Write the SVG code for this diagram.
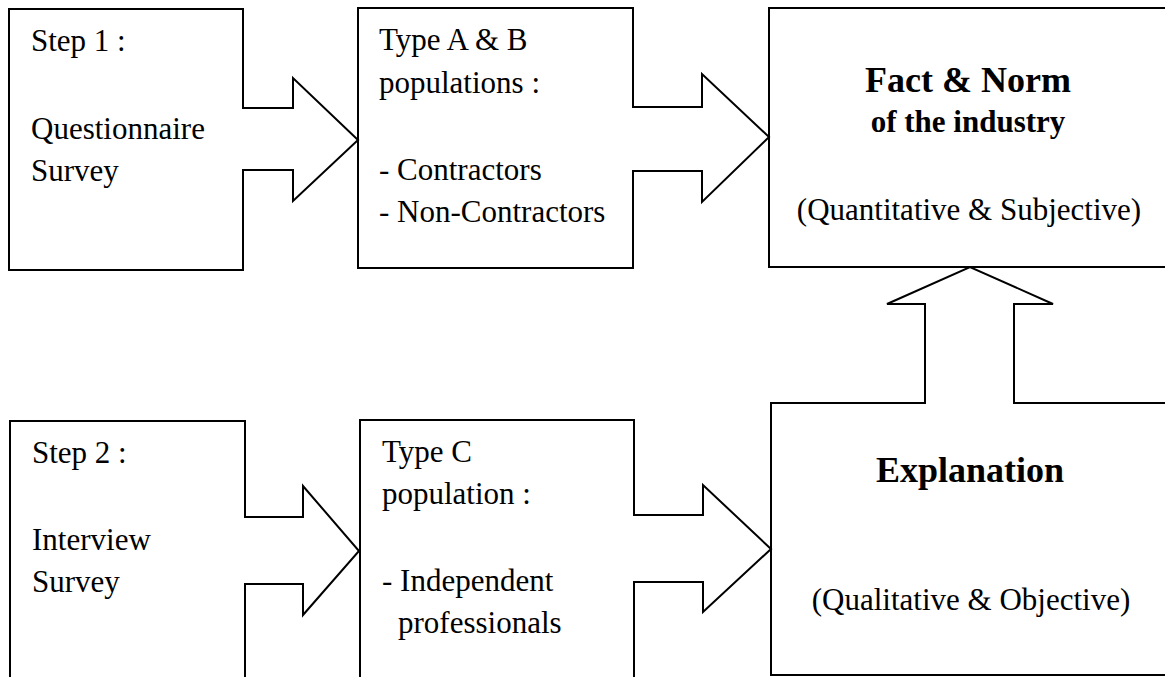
<svg xmlns="http://www.w3.org/2000/svg" width="1165" height="677" viewBox="0 0 1165 677">
<style>
.box{fill:#fff;stroke:#000;stroke-width:2}
.af{fill:#fff;stroke:none}
.al{fill:none;stroke:#000;stroke-width:2;stroke-linejoin:miter}
text{font-family:"Liberation Serif","Times New Roman",serif;font-size:31px;fill:#000}
.b{font-weight:bold}
.c{text-anchor:middle}
</style>
<rect width="1165" height="677" fill="#fff"/>
<g id="step1">
<rect class="box" x="9" y="9" width="234" height="261"/>
<text x="31" y="51">Step 1 :</text>
<text x="31" y="139">Questionnaire</text>
<text x="31" y="181">Survey</text>
</g>
<g id="typeAB">
<rect class="box" x="358" y="8" width="275" height="260"/>
<text x="379" y="50">Type A &amp; B</text>
<text x="379" y="93">populations :</text>
<text x="379" y="180">- Contractors</text>
<text x="379" y="222">- Non-Contractors</text>
</g>
<g id="factnorm">
<rect class="box" x="769" y="8" width="420" height="259"/>
<text class="b c" x="968" y="92" style="font-size:36px">Fact &amp; Norm</text>
<text class="b c" x="968" y="132">of the industry</text>
<text class="c" x="969" y="220">(Quantitative &amp; Subjective)</text>
</g>
<g id="step2">
<rect class="box" x="10" y="421" width="235" height="300"/>
<text x="32" y="463">Step 2 :</text>
<text x="32" y="550">Interview</text>
<text x="32" y="592">Survey</text>
</g>
<g id="typeC">
<rect class="box" x="360" y="420" width="274" height="300"/>
<text x="382" y="462">Type C</text>
<text x="382" y="504">population :</text>
<text x="382" y="591">- Independent</text>
<text x="398" y="633">professionals</text>
</g>
<g id="explanation">
<rect class="box" x="771" y="403" width="420" height="272"/>
<text class="b c" x="970" y="482" style="font-size:36px">Explanation</text>
<text class="c" x="971" y="610">(Qualitative &amp; Objective)</text>
</g>
<g id="connectors">
<polygon class="af" points="241,109 293,109 293,78 358,140 293,201 293,169 241,169"/>
<polyline class="al" points="243,108 293,108 293,78 358,140 293,201 293,170 243,170"/>
<polygon class="af" points="631,108 702,108 702,74 769,137 702,202 702,170 631,170"/>
<polyline class="al" points="633,107 702,107 702,74 769,137 702,202 702,171 633,171"/>
<polygon class="af" points="243,518 303,518 303,486 359,551 303,615 303,583 243,583"/>
<polyline class="al" points="245,517 303,517 303,486 359,551 303,615 303,584 245,584"/>
<polygon class="af" points="632,516 703,516 703,485 771,549 703,612 703,581 632,581"/>
<polyline class="al" points="634,515 703,515 703,485 771,549 703,612 703,582 634,582"/>
<polygon class="af" points="926,405 926,304 887,304 970,267 1053,304 1013,304 1013,405"/>
<polyline class="al" points="925,403 925,304 887,304 970,267 1053,304 1014,304 1014,403"/>
</g>
</svg>
